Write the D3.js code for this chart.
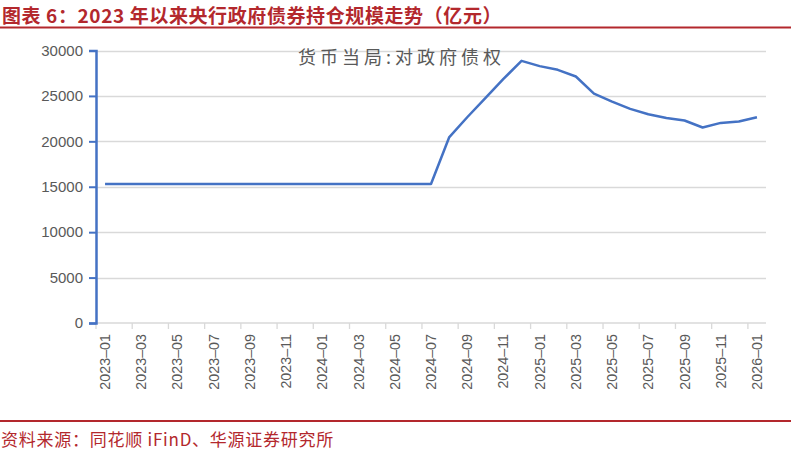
<!DOCTYPE html>
<html><head><meta charset="utf-8">
<script src="https://cdn.jsdelivr.net/npm/d3@7"></script>
<style>
html,body{margin:0;padding:0;background:#fff;}
svg{display:block;}
</style></head>
<body>
<svg id="chart" width="791" height="450"></svg>
<script>
const months = ["2023-01","2023-02","2023-03","2023-04","2023-05","2023-06","2023-07","2023-08","2023-09","2023-10","2023-11","2023-12",
"2024-01","2024-02","2024-03","2024-04","2024-05","2024-06","2024-07","2024-08","2024-09","2024-10","2024-11","2024-12",
"2025-01","2025-02","2025-03","2025-04","2025-05","2025-06","2025-07","2025-08","2025-09","2025-10","2025-11","2025-12","2026-01"];
const values = [15300,15300,15300,15300,15300,15300,15300,15300,15300,15300,15300,15300,
15300,15300,15300,15300,15300,15300,15300,20430,22650,24750,26870,28860,
28280,27870,27140,25250,24380,23570,22980,22570,22290,21520,22030,22180,22660];
const yTicks = [0,5000,10000,15000,20000,25000,30000];
const seriesName = "货币当局:对政府债权";
const title = "图表 6：2023 年以来央行政府债券持仓规模走势（亿元）";
const source = "资料来源：同花顺 iFinD、华源证券研究所";

const svg = d3.select("#chart");
const red = "#b3282d";
const mLeft = 96, mRight = 766, mTop = 50.5, mBottom = 323;

// title
svg.append("text").attr("x", 2).attr("y", 22.5)
  .attr("font-family", "'Noto Sans CJK SC', sans-serif").attr("font-weight", "bold")
  .attr("font-size", 19).attr("letter-spacing", 0.6).attr("fill", red).text(title);
svg.append("line").attr("x1", 0).attr("x2", 791).attr("y1", 27.5).attr("y2", 27.5)
  .attr("stroke", red).attr("stroke-width", 2);

// footer
svg.append("line").attr("x1", 0).attr("x2", 791).attr("y1", 421).attr("y2", 421)
  .attr("stroke", red).attr("stroke-width", 2);
svg.append("text").attr("x", 1).attr("y", 446)
  .attr("font-family", "'Noto Sans CJK SC', sans-serif")
  .attr("font-size", 17).attr("letter-spacing", 0.75).attr("fill", red).text(source);

const x = d3.scaleBand().domain(months).range([mLeft, mRight]).padding(0);
const y = d3.scaleLinear().domain([0, 30000]).range([mBottom, mTop]);

// gridlines
svg.append("g").selectAll("line").data(yTicks.filter(d => d > 0)).join("line")
  .attr("x1", mLeft).attr("x2", mRight)
  .attr("y1", d => Math.round(y(d)) + 0.5).attr("y2", d => Math.round(y(d)) + 0.5)
  .attr("stroke", "#d9d9d9").attr("stroke-width", 1.3);

// x axis
const xAxisG = svg.append("g").attr("transform", `translate(0,${mBottom})`);
xAxisG.append("line").attr("x1", mLeft).attr("x2", mRight).attr("y1", 0).attr("y2", 0)
  .attr("stroke", "#d9d9d9").attr("stroke-width", 1.5);
const tickIdx = months.map((m, i) => i).filter(i => i % 2 === 0);
xAxisG.selectAll("line.tk").data(tickIdx).join("line").attr("class", "tk")
  .attr("x1", i => x(months[i])).attr("x2", i => x(months[i]))
  .attr("y1", 0).attr("y2", 6).attr("stroke", "#d9d9d9").attr("stroke-width", 1.3);
xAxisG.selectAll("text").data(tickIdx).join("text")
  .attr("transform", i => `translate(${x(months[i]) + x.bandwidth() / 2 + 5},11) rotate(-90)`)
  .attr("text-anchor", "end")
  .attr("font-family", "'Liberation Sans', Arial, sans-serif").attr("font-size", 14.3)
  .attr("fill", "#595959").text(i => months[i].replace("-", "\u2013"));

// y axis
const yAxis = d3.axisLeft(y).tickValues(yTicks).tickSize(7).tickPadding(6).tickFormat(d3.format("d"));
const yG = svg.append("g").attr("transform", `translate(${mLeft},0)`).call(yAxis);
yG.select(".domain").attr("stroke", "#4472c4").attr("stroke-width", 2.5);
yG.selectAll(".tick line").attr("stroke", "#4472c4").attr("stroke-width", 2);
yG.selectAll(".tick text").attr("font-family", "'Liberation Sans', Arial, sans-serif")
  .attr("font-size", 15).attr("fill", "#595959");

// line
const line = d3.line().x((d, i) => x(months[i]) + x.bandwidth() / 2).y(d => y(d));
svg.append("path").datum(values).attr("d", line)
  .attr("fill", "none").attr("stroke", "#4472c4").attr("stroke-width", 2.5)
  .attr("stroke-linejoin", "round");

// series label
svg.append("text").attr("x", 298).attr("y", 64)
  .attr("font-family", "'Noto Sans CJK SC', sans-serif")
  .attr("font-size", 18).attr("letter-spacing", 4).attr("fill", "#595959").text(seriesName);
</script>
</body></html>
